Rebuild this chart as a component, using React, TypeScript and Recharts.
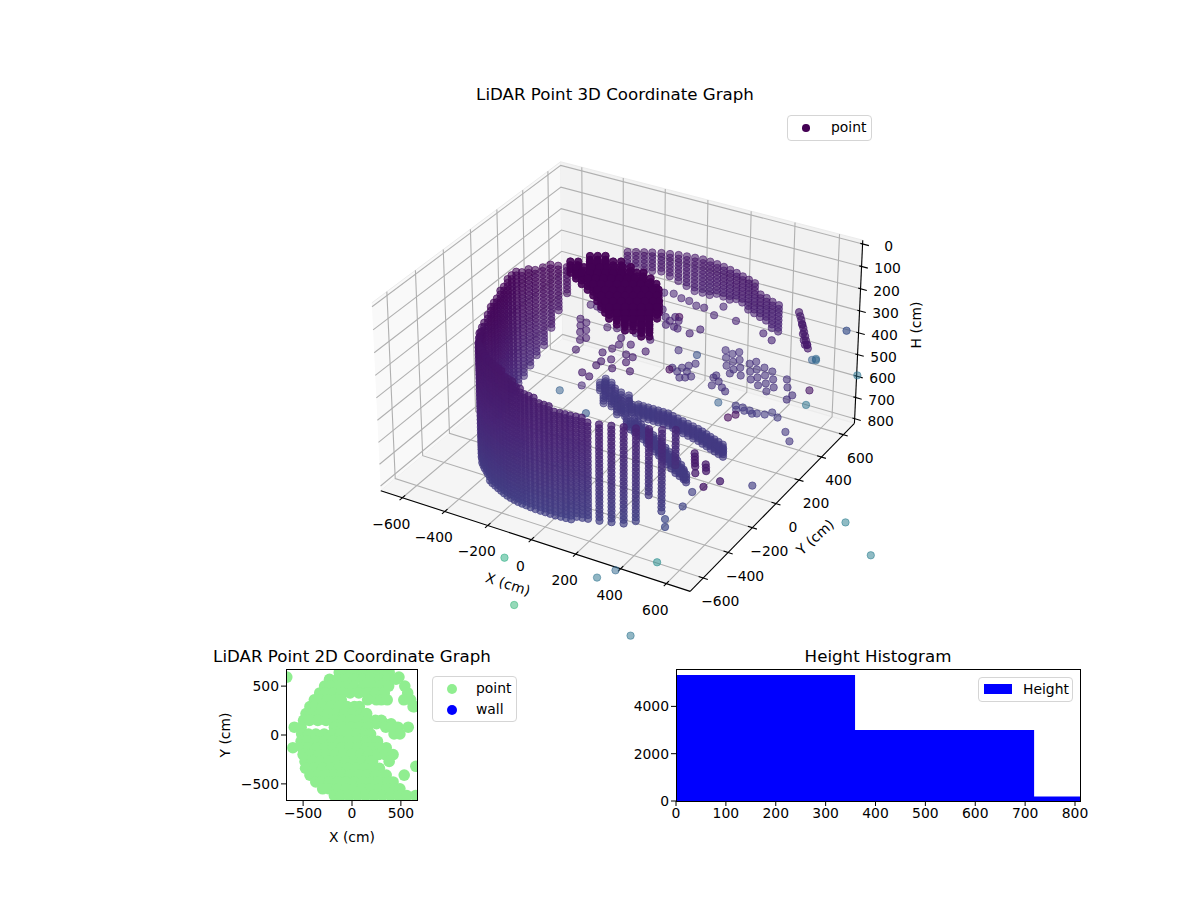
import { Area, AreaChart, Scatter, ScatterChart, XAxis, YAxis } from "recharts";

const FONT = "'DejaVu Sans', sans-serif";

// 3D axes limits
const XY_LIMIT = 675;
const H_LIMIT = 805;
const X_TICKS = [-600, -400, -200, 0, 200, 400, 600];
const Y_TICKS = [-600, -400, -200, 0, 200, 400, 600];
const H_TICKS = [0, 100, 200, 300, 400, 500, 600, 700, 800];

// Scanner rings, heights shared by the wall columns
const SCAN_LEVELS = [
  142, 159, 176, 193, 210, 227, 244, 261, 278, 295, 312, 329, 346, 363, 380, 397, 414, 431, 448, 465,
  482, 499, 516, 533, 550, 567, 584, 601, 618, 635, 652, 669, 686, 703, 720, 737,
];

// [x, y, top height, bottom height]
const WALL_COLUMNS = [
  [-400, 320, 200, 270], [-425, 285, 194, 334], [-445, 250, 181, 398], [-460, 215, 174, 475],
  [-475, 180, 168, 539], [-490, 145, 162, 577], [-500, 110, 155, 615], [-510, 75, 149, 641],
  [-515, 40, 142, 654], [-515, 5, 142, 679], [-512, -30, 142, 692], [-508, -65, 149, 705],
  [-503, -100, 155, 711], [-498, -135, 162, 718], [-490, -170, 168, 724], [-482, -205, 174, 730],
  [-475, -240, 181, 736], [-470, -275, 200, 740], [-458, -310, 200, 736], [-442, -345, 194, 730],
  [-425, -380, 187, 724], [-405, -415, 181, 718], [-385, -450, 181, 711], [-360, -485, 174, 705],
  [-345, -500, 171, 708], [-330, -515, 168, 711], [-312, -530, 168, 714], [-295, -545, 168, 718],
  [-278, -558, 168, 721], [-260, -570, 168, 724], [-240, -580, 168, 727], [-220, -590, 168, 730],
  [-200, -600, 171, 730], [-180, -610, 174, 730], [-160, -618, 180, 730], [-140, -625, 187, 730],
  [-120, -630, 193, 730], [-100, -635, 200, 730], [-80, -638, 206, 730], [-60, -640, 213, 730],
  [-38, -643, 219, 730], [-15, -645, 225, 730], [8, -645, 231, 727], [30, -645, 238, 724],
  [52, -645, 241, 724], [75, -645, 245, 724], [98, -642, 248, 724], [120, -640, 251, 724],
  [142, -638, 254, 721], [165, -635, 257, 718], [188, -630, 260, 718], [210, -625, 264, 718],
  [255, -615, 270, 716], [300, -600, 270, 716],
  [345, -585, 270, 705], [390, -570, 277, 690], [435, -550, 277, 568], [480, -530, 277, 636],
  [525, -505, 277, 445],
];

const BACK_COLUMNS = [
  [-275, 523, 210, 289], [-245, 540, 210, 289], [-215, 555, 210, 295], [-185, 570, 210, 300],
  [-150, 585, 210, 308], [-115, 595, 210, 320], [-80, 605, 210, 335], [-45, 612, 210, 350],
  [-10, 618, 210, 366], [25, 622, 210, 366], [60, 620, 210, 366], [95, 615, 210, 360],
  [130, 608, 210, 355], [165, 598, 210, 350], [200, 588, 210, 345], [235, 575, 210, 345],
  [270, 562, 210, 347], [305, 548, 210, 350], [340, 532, 244, 355], [375, 518, 244, 360],
  [410, 502, 244, 365], [445, 490, 244, 370],
];

// [x, y] at each of the BLOB_HEIGHTS
const BLOB_HEIGHTS = [125, 142, 159, 176];
const BLOB_POINTS = [
  [-309, 276], [-282, 292], [-255, 308],
  [-354, 196], [-326, 211], [-285, 235], [-258, 251], [-231, 267], [-204, 282], [-176, 298],
  [-310, 166], [-283, 182], [-256, 198], [-228, 214], [-201, 229], [-174, 245], [-147, 261], [-119, 277],
  [-266, 137], [-238, 153], [-211, 169], [-184, 185], [-157, 200], [-129, 216], [-102, 232], [-75, 248], [-51, 261],
  [-221, 108], [-194, 124], [-167, 140], [-139, 155], [-112, 171], [-85, 187], [-58, 203], [-30, 218], [-3, 234],
  [-178, 79], [-151, 95], [-123, 110], [-96, 126], [-69, 142], [-42, 158], [-14, 173], [13, 189], [40, 205],
  [-140, 46], [-113, 62], [-86, 77], [-58, 93], [-31, 109], [-4, 125], [23, 140], [51, 156], [71, 168],
  [-103, 14], [-75, 29], [-48, 45], [-21, 61], [6, 77], [34, 92], [61, 108], [88, 124],
  [-66, -19], [-39, -4], [-11, 12], [16, 28], [43, 44], [70, 59], [98, 75], [118, 87],
  [-28, -53], [-1, -37], [26, -21], [53, -5], [81, 10], [108, 26], [135, 42],
  [22, -78], [49, -62], [77, -46], [104, -31], [131, -15],
  [73, -103], [100, -87], [128, -72], [155, -56],
  [152, -113], [179, -97],
];

// The two long arms near the floor, [x, y] at each of the ARM_HEIGHTS
const ARM_HEIGHTS = [609, 621, 633, 645];
const ARM_POINTS = [
  [-184, 185], [-147, 169], [-188, 146], [-145, 117], [-111, 136], [-124, 65], [-84, 60], [-74, 121], [-35, 116],
  [-33, 17], [2, 20], [-171, 156], [-123, 110], [-86, 86], [-42, 66], [-11, 75], [34, 74], [80, 73], [126, 73],
  [172, 73], [225, 57], [279, 43], [333, 29], [381, 10], [427, -8], [474, -26], [-26, 39], [18, 47], [50, 47],
  [96, 46], [142, 46], [188, 46], [241, 30], [295, 16], [349, 2], [397, -17], [443, -35], [490, -53],
  [48, -45], [99, -69], [151, -95], [209, -134], [268, -172], [326, -211], [386, -251], [436, -275],
  [75, -30], [120, -55], [175, -85], [230, -120], [290, -160], [350, -200], [405, -240], [455, -290],
  [-60, 70], [10, 60], [57, 73], [103, 73], [149, 73], [198, 65], [252, 50], [306, 36], [357, 20], [404, 1], [450, -17],
  [73, 46], [119, 46], [165, 46], [214, 38], [268, 23], [322, 9], [373, -8], [420, -26], [466, -44],
  [73, -57], [125, -82], [180, -115], [238, -153], [297, -191], [356, -231], [411, -263],
  [97, -42], [147, -70], [202, -102], [260, -140], [320, -180], [377, -220], [430, -265],
];

// [x, y] groups at one height and one colour value
const INTERIOR_GROUPS: { h: number; c: number; points: number[][] }[] = [
  {
    h: 334, c: 0.1,
    points: [
      [-86, 496], [-48, 508], [-2, 490], [37, 486], [81, 466], [117, 467], [182, 432], [181, 514], [281, 435],
      [424, 400], [479, 367], [168, 252], [190, 301], [-22, 369], [19, 321], [51, 266], [49, 302], [53, 340],
      [80, 319], [107, 262], [87, 268],
    ],
  },
  { h: 334, c: 0.02, points: [[67, 348]] },
  {
    h: 398, c: 0.08,
    points: [
      [-356, 358], [-325, 358], [-299, 346], [-201, 229], [-163, 242], [-109, 182], [-89, 130], [-97, 89],
      [-115, 43], [-57, 12], [-84, -21], [-85, -58], [-105, -134], [-65, -147], [-18, -47], [-25, 76], [-48, 154],
      [9, 70], [6, 22], [55, -32], [31, 136], [-78, 246], [1, 227], [-332, 235], [-304, 188], [-277, 140],
      [-245, 85], [-295, 220], [-264, 166], [-232, 111], [-219, 9],
    ],
  },
  { h: 398, c: 0.07, points: [[573, -442], [596, -482], [620, -523], [643, -564], [647, -490], [671, -531], [585, -462], [608, -503], [659, -510]] },
  {
    h: 526, c: 0.14,
    points: [
      [79, 272], [111, 255], [113, 292], [145, 275], [179, 249], [162, 230], [142, 218], [129, 320], [32, 409], [145, 348],
      [199, 506], [230, 452], [262, 397], [238, 493], [270, 438], [301, 384], [255, 520], [286, 465], [318, 410],
      [349, 356], [303, 349], [336, 458], [367, 403], [399, 349], [352, 485], [383, 431], [415, 376], [446, 322],
      [403, 460], [434, 406], [466, 351], [497, 297], [445, 448], [477, 394], [508, 339], [261, 287], [294, 270],
      [285, 229], [328, 235], [263, 307], [354, 214], [525, 422], [556, 367], [601, 321], [597, 281],
    ],
  },
  { h: 526, c: 0.02, points: [[76, 254]] },
  { h: 526, c: 0.25, points: [[116, 413]] },
  {
    h: 679, c: 0.17,
    points: [[323, 368], [355, 369], [391, 362], [427, 356], [458, 365], [477, 394], [514, 370], [340, 340], [372, 350], [410, 345]],
  },
  { h: 679, c: 0.02, points: [[340, 270], [356, 305]] },
];

const RIGHT_STREAK = [
  [592, 376, 181], [600, 372, 195], [606, 370, 209], [612, 366, 223], [620, 362, 237], [626, 358, 251], [634, 352, 265],
  [640, 348, 280], [648, 344, 295], [653, 341, 309], [610, 372, 230], [622, 356, 260], [632, 345, 280], [645, 350, 300], [640, 340, 295],
];

// [x, y, height, colour value]; a few fall outside the box as in the source
const OUTLIERS = [
  [1028, -42, 781, 0.42], [1213, -199, 781, 0.42], [680, -1115, 781, 0.38], [9, -913, 781, 0.62], [207, -1162, 781, 0.66],
  [383, -852, 781, 0.38], [419, -775, 781, 0.33], [529, -649, 781, 0.48], [850, 273, 142, 0.25], [757, 593, 526, 0.38],
  [655, 415, 398, 0.33], [650, 425, 398, 0.33], [640, 410, 398, 0.3], [540, 576, 718, 0.38], [643, 390, 526, 0.05],
  [564, 345, 718, 0.16], [611, 289, 718, 0.16], [636, -78, 718, 0.18], [750, -567, 398, 0.08], [715, -632, 398, 0.06],
  [454, -237, 718, 0.18], [472, -346, 718, 0.2], [466, -476, 705, 0.22], [493, -524, 705, 0.22], [-339, 77, 654, 0.3],
  [-281, 156, 654, 0.12], [-154, -25, 654, 0.28], [250, 354, 679, 0.3],
];

// Top view: [y, x values] for the 2D panel
const TOP_VIEW_ROWS: [number, number[]][] = [
  [640, [-130, -45, 40, 125, 210, 295, 380]],
  [592, [-667, 480]],
  [570, [-230, -145, -60, 25, 110, 195, 280, 365, 450]],
  [500, [-280, -225, -140, -55, 20, 120, 205, 290, 375, 540]],
  [430, [-330, -275, -190, -105, -20, 70, 155, 240, 330, 570]],
  [360, [-385, -335, -250, -165, -110, 160, 250, 300, 360, 530, 600]],
  [290, [-430, -385, -300, -215, -130, -50, 25, 75, 625, 640]],
  [220, [-470, -415, -330, -245, -160, -75, 10, 90, 150]],
  [150, [-495, -435, -350, -265, -180, -95, -10, 75, 160, 240, 300]],
  [115, [250, 330, 400]],
  [80, [-590, -520, -180, -95, -10, 75, 160, 345, 400, 470, 575]],
  [10, [-515, -445, -370, -285, -200, -115, -30, 55, 140, 190, 430, 490]],
  [-65, [-520, -455, -370, -285, -200, -115, -30, 55, 150, 215, 260]],
  [-130, [-605, -510, -445, -360, -275, -190, -105, -20, 65, 150, 220, 290, 350]],
  [-200, [-500, -425, -340, -255, -170, -85, 0, 85, 170, 270, 340, 420]],
  [-270, [-480, -405, -320, -235, -150, -65, 20, 105, 190, 210, 380]],
  [-320, [653]],
  [-340, [-475, -385, -300, -215, -130, -45, 40, 125, 210, 280]],
  [-410, [-430, -355, -270, -185, -100, -15, 70, 155, 240, 350, 534]],
  [-480, [-370, -315, -230, -145, -60, 25, 110, 195, 280, 365, 420]],
  [-550, [-300, -235, -150, -65, 20, 105, 190, 275, 360, 445, 490]],
  [-620, [-180, -115, -30, 55, 140, 225, 310, 395, 480, 560, 650]],
];
const PANEL_TICKS = [-500, 0, 500];

// Histogram: bin edges and counts, last count repeated for the closing step
const HIST_EDGES = [0, 359, 718, 810];
const HIST_COUNTS = [5330, 3000, 190, 190];
const HIST_X_TICKS = [0, 100, 200, 300, 400, 500, 600, 700, 800];
const HIST_Y_TICKS = [0, 2000, 4000];

const VIRIDIS = ["#440154", "#482475", "#414487", "#355f8d", "#2a788e", "#21918c", "#22a884", "#44bf70", "#7ad151", "#bddf26", "#fde725"];

function viridis(c: number) {
  const t = Math.min(Math.max(c, 0), 1) * 10;
  const i = Math.min(Math.floor(t), 9);
  const f = t - i;
  const part = (hex: string, at: number) => parseInt(hex.slice(at, at + 2), 16);
  const mix = (at: number) => Math.round(part(VIRIDIS[i], at) * (1 - f) + part(VIRIDIS[i + 1], at) * f);
  return `rgb(${mix(1)},${mix(3)},${mix(5)})`;
}

// mplot3d view at elev 30, azim -60, dist 10
const SCALE_U = 2965;
const SCALE_V = 2990;
const CENTER_U = 622;
const CENTER_V = 365.3;
const HALF_XY = 0.595;
const HALF_H = 0.358;
const XY_EDGE = XY_LIMIT * (1 + 1 / 24);
const H_PAD = H_LIMIT / 48;
const H_TOP = -H_PAD;
const H_BOTTOM = H_LIMIT + H_PAD;

function project(x: number, y: number, h: number) {
  const rx = (HALF_XY * x) / XY_EDGE;
  const ry = (HALF_XY * y) / XY_EDGE;
  const rz = HALF_H * (1 - (2 * (h - H_TOP)) / (H_BOTTOM - H_TOP));
  const xv = 0.866 * rx + 0.5 * ry;
  const yv = -0.25 * rx + 0.433 * ry + 0.866 * rz;
  const depth = 0.433 * rx - 0.75 * ry + 0.5 * rz;
  const w = 10 - depth;
  return { u: xv / w, v: yv / w, depth };
}

const columnsToPoints = (cols: number[][]) =>
  cols.flatMap(([x, y, top, bottom]) =>
    SCAN_LEVELS.filter((h) => h >= top && h <= bottom).map((h) => [x, y, h, (Math.hypot(x, y, h) - 500) / 2500]),
  );

const cloud = [
  ...columnsToPoints(WALL_COLUMNS),
  ...columnsToPoints(BACK_COLUMNS),
  ...BLOB_HEIGHTS.flatMap((h) => BLOB_POINTS.map(([x, y]) => [x, y, h, 0])),
  ...ARM_HEIGHTS.flatMap((h) => ARM_POINTS.map(([x, y]) => [x, y, h, 0.17])),
  ...INTERIOR_GROUPS.flatMap((g) => g.points.map(([x, y]) => [x, y, g.h, g.c])),
  ...RIGHT_STREAK.map(([x, y, h]) => [x, y, h, 0.07]),
  ...OUTLIERS,
]
  .map(([x, y, h, c]) => {
    const p = project(x, y, h);
    const alpha = c === 0 ? 0.9 : c >= 0.3 ? 0.52 : 0.62 + 0.2 * p.depth;
    return { ...p, fill: viridis(c), alpha };
  })
  .sort((a, b) => a.depth - b.depth);

const topView = TOP_VIEW_ROWS.flatMap(([y, xs]) => xs.map((x) => ({ x, y })));
const histData = HIST_EDGES.map((edge, i) => ({ edge, count: HIST_COUNTS[i] }));

const E = XY_EDGE;
const panes = [
  { fill: "#f9f9f9", pts: [[-E, -E, H_BOTTOM], [-E, E, H_BOTTOM], [-E, E, H_TOP], [-E, -E, H_TOP]] },
  { fill: "#f2f2f2", pts: [[-E, E, H_BOTTOM], [E, E, H_BOTTOM], [E, E, H_TOP], [-E, E, H_TOP]] },
  { fill: "#f5f5f5", pts: [[-E, -E, H_BOTTOM], [E, -E, H_BOTTOM], [E, E, H_BOTTOM], [-E, E, H_BOTTOM]] },
];
const gridLines = [
  ...X_TICKS.map((x) => [[x, -E, H_BOTTOM], [x, E, H_BOTTOM], [x, E, H_TOP]]),
  ...Y_TICKS.map((y) => [[E, y, H_BOTTOM], [-E, y, H_BOTTOM], [-E, y, H_TOP]]),
  ...H_TICKS.map((h) => [[E, E, h], [-E, E, h], [-E, -E, h]]),
];
const axisLines = [
  [[-E, -E, H_BOTTOM], [E, -E, H_BOTTOM]],
  [[E, -E, H_BOTTOM], [E, E, H_BOTTOM]],
  [[E, E, H_BOTTOM], [E, E, H_TOP]],
  ...X_TICKS.map((x) => [[x, -E - 20, H_BOTTOM], [x, -E + 20, H_BOTTOM]]),
  ...Y_TICKS.map((y) => [[E - 20, y, H_BOTTOM], [E + 20, y, H_BOTTOM]]),
  ...H_TICKS.map((h) => [[E - 10, E, h], [E + 28, E, h]]),
];
const fmt = (n: number) => String(n).replace("-", "\u2212");
const tickLabels = [
  ...X_TICKS.map((x) => ({ ...project(x, -E, H_BOTTOM), label: fmt(x), dx: -11, dy: 26 })),
  ...Y_TICKS.map((y) => ({ ...project(E, y, H_BOTTOM), label: fmt(y), dx: 17, dy: 23 })),
  ...H_TICKS.map((h) => ({ ...project(E, E, h), label: fmt(h), dx: 26, dy: 2 })),
];

const toPath = (pts: number[][]) => pts.map(([x, y, h]) => project(x, y, h));

function CloudDot(props: any) {
  const { cx, cy, payload } = props;
  return (
    <circle cx={cx} cy={cy} r={3.7} fill={payload.fill} fillOpacity={payload.alpha} stroke={payload.fill} strokeOpacity={payload.alpha} strokeWidth={1} />
  );
}

function TickText(props: any) {
  const { cx, cy, payload } = props;
  return (
    <text x={cx + payload.dx} y={cy + payload.dy} textAnchor="middle" dominantBaseline="central" fontFamily={FONT} fontSize={13.9} fill="#000">
      {payload.label}
    </text>
  );
}

const NoDot = () => <g />;

function LegendBox({ left, top, width, height, children }: any) {
  return (
    <div
      style={{
        position: "absolute", left, top, width, height, boxSizing: "border-box", background: "rgba(255,255,255,0.8)",
        border: "1px solid #d5d5d5", borderRadius: 4, fontFamily: FONT, fontSize: 13.9, color: "#000",
      }}
    >
      {children}
    </div>
  );
}

function LegendDot({ x, y, r, color, label, textX }: any) {
  return (
    <>
      <div style={{ position: "absolute", left: x - r, top: y - r, width: 2 * r, height: 2 * r, borderRadius: "50%", background: color }} />
      <div style={{ position: "absolute", left: textX, top: y - 10, lineHeight: "18px" }}>{label}</div>
    </>
  );
}

function Label({ x, y, size = 13.9, rotate = 0, children }: any) {
  return (
    <div
      style={{
        position: "absolute", left: x, top: y, transform: `translate(-50%,-50%) rotate(${rotate}deg)`, fontFamily: FONT,
        fontSize: size, color: "#000", whiteSpace: "nowrap",
      }}
    >
      {children}
    </div>
  );
}

const tickStyle = { fill: "#000", fontSize: 13.9, fontFamily: FONT };
const tickLine = { stroke: "#000", strokeWidth: 1 };

export default function App() {
  return (
    <div style={{ position: "absolute", left: 0, top: 0, width: 1200, height: 900, background: "#fff", overflow: "hidden" }}>
      <div style={{ position: "absolute", left: 0, top: 0 }}>
        <ScatterChart width={1200} height={900} margin={{ top: 0, right: 0, bottom: 0, left: 0 }}>
          <XAxis type="number" dataKey="u" hide allowDataOverflow domain={[-CENTER_U / SCALE_U, (1200 - CENTER_U) / SCALE_U]} />
          <YAxis type="number" dataKey="v" hide allowDataOverflow domain={[(CENTER_V - 900) / SCALE_V, CENTER_V / SCALE_V]} />
          {panes.map((p, i) => (
            <Scatter key={`pane-${i}`} data={toPath(p.pts)} line={{ fill: p.fill, stroke: "#ececec", strokeWidth: 1 }} shape={NoDot} isAnimationActive={false} />
          ))}
          {gridLines.map((g, i) => (
            <Scatter key={`grid-${i}`} data={toPath(g)} line={{ stroke: "#b0b0b0", strokeWidth: 1.1 }} shape={NoDot} isAnimationActive={false} />
          ))}
          {axisLines.map((g, i) => (
            <Scatter key={`axis-${i}`} data={toPath(g)} line={{ stroke: "#000", strokeWidth: 1.1 }} shape={NoDot} isAnimationActive={false} />
          ))}
          <Scatter name="point" data={cloud} shape={CloudDot} isAnimationActive={false} />
          <Scatter data={tickLabels} shape={TickText} isAnimationActive={false} />
        </ScatterChart>
      </div>
      <Label x={615} y={94} size={16.67}>LiDAR Point 3D Coordinate Graph</Label>
      <Label x={508} y={584} rotate={18}>X (cm)</Label>
      <Label x={815} y={537} rotate={-42}>Y (cm)</Label>
      <Label x={916} y={325} rotate={-90}>H (cm)</Label>
      <LegendBox left={787} top={115} width={85} height={26}>
        <LegendDot x={18} y={12} r={3.8} color="#440154" label="point" textX={43} />
      </LegendBox>

      <div style={{ position: "absolute", left: 200, top: 650 }}>
        <ScatterChart width={240} height={190} margin={{ top: 19, right: 22, bottom: 9, left: 26 }}>
          <XAxis
            type="number" dataKey="x" allowDataOverflow domain={[-675, 675]} ticks={PANEL_TICKS} height={30}
            tick={tickStyle} tickLine={tickLine} tickSize={5} axisLine={false} tickFormatter={fmt}
          />
          <YAxis
            type="number" dataKey="y" allowDataOverflow domain={[-675, 675]} ticks={PANEL_TICKS} width={60}
            tick={tickStyle} tickLine={tickLine} tickSize={5} axisLine={false} tickFormatter={fmt}
          />
          <Scatter name="point" data={topView} fill="#90ee90" isAnimationActive={false} shape={(p: any) => <circle cx={p.cx} cy={p.cy} r={5.8} fill="#90ee90" />} />
          <Scatter name="wall" data={[]} fill="#0000ff" isAnimationActive={false} />
        </ScatterChart>
      </div>
      <div style={{ position: "absolute", left: 286, top: 669, width: 132, height: 132, boxSizing: "border-box", border: "1px solid #000" }} />
      <Label x={352} y={656} size={16.67}>LiDAR Point 2D Coordinate Graph</Label>
      <Label x={352} y={837}>X (cm)</Label>
      <Label x={225} y={735} rotate={-90}>Y (cm)</Label>
      <LegendBox left={432} top={676} width={85} height={46}>
        <LegendDot x={19} y={12} r={5} color="#90ee90" label="point" textX={43} />
        <LegendDot x={19} y={33} r={5} color="#0000ff" label="wall" textX={43} />
      </LegendBox>

      <div style={{ position: "absolute", left: 600, top: 650 }}>
        <AreaChart width={510} height={190} data={histData} margin={{ top: 19, right: 30, bottom: 9, left: 16 }}>
          <XAxis
            type="number" dataKey="edge" domain={[0, 810]} ticks={HIST_X_TICKS} height={30} allowDataOverflow
            tick={tickStyle} tickLine={tickLine} tickSize={5} axisLine={false}
          />
          <YAxis
            type="number" domain={[0, 5580]} ticks={HIST_Y_TICKS} width={60} allowDataOverflow
            tick={tickStyle} tickLine={tickLine} tickSize={5} axisLine={false}
          />
          <Area name="Height" dataKey="count" type="stepAfter" fill="#0000ff" fillOpacity={1} stroke="none" isAnimationActive={false} />
        </AreaChart>
      </div>
      <div style={{ position: "absolute", left: 676, top: 669, width: 405, height: 133, boxSizing: "border-box", border: "1px solid #000" }} />
      <Label x={878} y={656} size={16.67}>Height Histogram</Label>
      <LegendBox left={978} top={677} width={95} height={25}>
        <div style={{ position: "absolute", left: 5, top: 6, width: 28, height: 10, background: "#0000ff" }} />
        <div style={{ position: "absolute", left: 44, top: 2, lineHeight: "18px" }}>Height</div>
      </LegendBox>
    </div>
  );
}
